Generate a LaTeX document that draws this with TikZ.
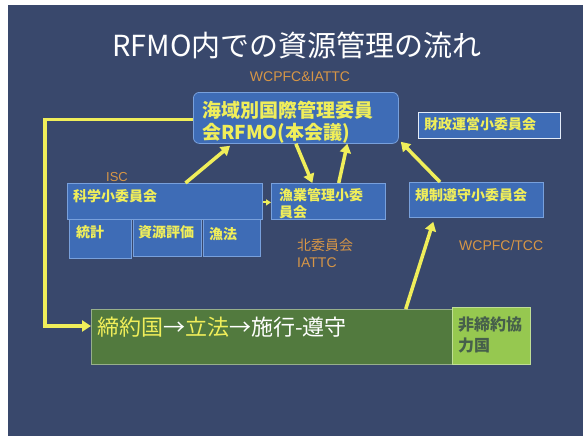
\documentclass[tikz,border=0pt]{standalone}
\usepackage{fontspec}
\setmainfont{Noto Sans CJK JP}
\newfontfamily\lat{Liberation Sans}
\usetikzlibrary{arrows.meta,calc}
\definecolor{bg}{RGB}{57,72,108}
\definecolor{boxfill}{RGB}{62,108,182}
\definecolor{boxline}{RGB}{120,160,220}
\definecolor{ylw}{RGB}{240,238,90}
\definecolor{org}{RGB}{215,150,70}
\definecolor{dgreen}{RGB}{82,122,62}
\definecolor{lgreen}{RGB}{150,200,80}
\definecolor{ncol}{RGB}{70,95,75}
\tikzset{
  bx/.style={draw=boxline, line width=0.8pt, fill=boxfill, inner sep=0pt, anchor=north west},
  ytext/.style={text=ylw, inner sep=0pt, anchor=west, font=\fontsize{14}{14}\selectfont\bfseries},
  otext/.style={text=org, inner sep=0pt, anchor=west, font=\lat\fontsize{14}{14}\selectfont},
  ojtext/.style={text=org, inner sep=0pt, anchor=west, font=\fontsize{14}{14}\selectfont},
  arr/.style={draw=ylw, line width=3.5pt, -{Triangle[length=9pt,width=11pt]}},
}
\begin{document}
\begin{tikzpicture}[x=1pt,y=-1pt]
\useasboundingbox (0,0) rectangle (583,436);
\fill[white] (0,0) rectangle (583,436);
\fill[bg] (8,5) rectangle (583,436);
% title
\node[text=white, inner sep=0pt, font=\fontsize{29}{29}\selectfont] (title) at (297,45) {RFMO内での資源管理の流れ};
\node[otext, anchor=center] (lab1) at (300,77) {WCPFC\&IATTC};
% main box
\node[bx, rounded corners=6pt, minimum width=205pt, minimum height=51pt] (main) at (193,92) {};
\node[ytext, font=\fontsize{19}{19}\selectfont\bfseries] (mainA) at (202,110) {海域別国際管理委員};
\node[ytext, font=\fontsize{19}{19}\selectfont\bfseries] (mainB) at (202,133) {会RFMO(本会議)};
% finance
\node[bx, minimum width=142pt, minimum height=26pt, draw=white!80!boxline] (fin) at (418,112) {};
\node[ytext] (finT) at (424,124) {財政運営小委員会};
% science
\node[bx, minimum width=195pt, minimum height=36pt] (sci) at (67,183) {};
\node[ytext] (sciT) at (73,196) {科学小委員会};
\node[otext, font=\lat\fontsize{13}{13}\selectfont] (isc) at (106,177) {ISC};
\node[bx, minimum width=62pt, minimum height=39pt] (sub1) at (69,219) {};
\node[bx, minimum width=68pt, minimum height=37pt] (sub2) at (133,219) {};
\node[bx, minimum width=57pt, minimum height=37pt] (sub3) at (203,219) {};
\node[ytext] (sub1T) at (76,232) {統計};
\node[ytext] (sub2T) at (138,232) {資源評価};
\node[ytext] (sub3T) at (209,234) {漁法};
% fishery
\node[bx, minimum width=114pt, minimum height=36pt] (fish) at (271,183) {};
\node[ytext] (fishA) at (279,195) {漁業管理小委};
\node[ytext] (fishB) at (279,212) {員会};
\node[ojtext] (lab2) at (297,245) {北委員会};
\node[otext] (lab3) at (297,263) {IATTC};
% compliance
\node[bx, minimum width=134pt, minimum height=35pt] (comp) at (409,182) {};
\node[ytext] (compT) at (415,195) {規制遵守小委員会};
\node[otext] (lab4) at (459,245) {WCPFC/TCC};
% green boxes
\node[draw=dgreen!60!white, line width=0.8pt, fill=dgreen, inner sep=0pt, anchor=north west, minimum width=361pt, minimum height=55pt] (green) at (91,309) {};
\node[draw=lgreen!60!white, line width=0.8pt, fill=lgreen, inner sep=0pt, anchor=north west, minimum width=78pt, minimum height=57pt] (ngreen) at (452,307) {};
\node[inner sep=0pt, anchor=west, font=\fontsize{22}{22}\selectfont] (gT) at (97,327) {\textcolor{ylw}{締約国}\textcolor{white}{→}\textcolor{ylw}{立法}\textcolor{white}{→施行-遵守}};
\node[inner sep=0pt, anchor=west, text=ncol, font=\fontsize{16}{16}\selectfont\bfseries] (nA) at (458,325) {非締約協};
\node[inner sep=0pt, anchor=west, text=ncol, font=\fontsize{16}{16}\selectfont\bfseries] (nB) at (458,345) {力国};
% arrows
\draw[arr] ($(sci.north west)!0.605!(sci.north east)$) -- ($(main.south west)!0.18!(main.south east)+(0,2)$);
\draw[arr] ($(main.south west)!0.5!(main.south east)$) -- ($(fish.north west)!0.36!(fish.north east)$);
\draw[arr] ($(fish.north west)!0.59!(fish.north east)$) -- ($(main.south west)!0.75!(main.south east)$);
\draw[arr] ($(comp.north west)!0.23!(comp.north east)$) -- ($(main.south east)+(2,-2)$);
\draw[arr] ($(green.north west)!0.87!(green.north east)$) -- ($(comp.south west)!0.18!(comp.south east)+(0,4)$);
\draw[draw=ylw, line width=2pt, -{Triangle[length=5pt,width=6pt]}] ($(sci.east)+(0,1)$) -- ($(fish.west)+(0,1)$);
\draw[arr, line cap=butt] ($(main.west)+(0,1.5)$) -- ++(-148,0) |- ($(green.north west)+(0,17)$);
\end{tikzpicture}
\end{document}
